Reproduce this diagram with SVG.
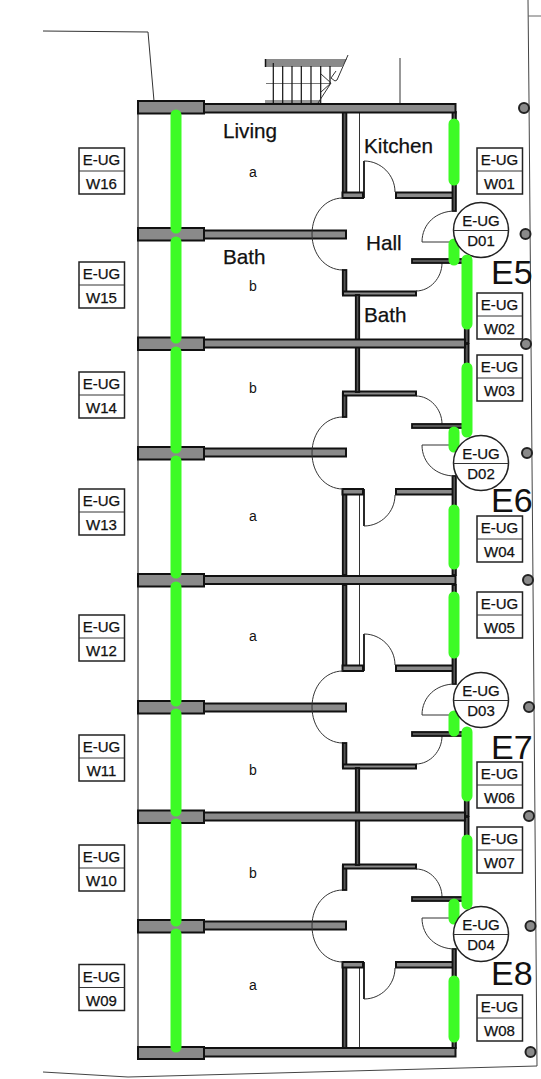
<svg xmlns="http://www.w3.org/2000/svg" width="541" height="1079" viewBox="0 0 541 1079">
<style>
text{font-family:"Liberation Sans",Arial,sans-serif;fill:#111;stroke:#111;stroke-width:.25}
.w{fill:#8a8a8a;stroke:#111;stroke-width:2}
.d{fill:#555;stroke:#111;stroke-width:1.800}
.l{fill:none;stroke:#333;stroke-width:1}
.g{fill:none;stroke:#3dfb25;stroke-width:11;stroke-linecap:round}
.t{font-size:15px;text-anchor:middle}
.r{font-size:20.700px}
.s{font-size:14px;text-anchor:middle;stroke-width:0}
.e{font-size:34px;stroke-width:0}
.b{fill:#fff;stroke:#222;stroke-width:1.500}
.p{fill:#8a8a8a;stroke:#222;stroke-width:2}
</style>
<defs>
<g id="unit">
<rect class="w" x="204" y="230.500" width="142" height="8"/>
<rect class="d" x="342.800" y="112" width="3.600" height="83"/>
<path class="l" d="M359.500 112V193"/>
<rect class="w" x="342.500" y="192.500" width="20.500" height="5.500"/>
<rect class="w" x="396" y="192.500" width="59" height="5.500"/>
<path d="M364 161V198" fill="none" stroke="#111" stroke-width="1.800"/>
<path class="l" d="M364 161C381 161 395 175 395 192"/>
<rect class="d" x="452.500" y="112" width="3.400" height="99"/>
<path class="l" d="M343 198C325 198 312 214 312 234C312 254 325 270 343 270"/>
<rect class="d" x="342.800" y="270" width="3.600" height="24"/>
<rect class="w" x="343" y="291.500" width="73" height="4"/>
<path class="l" d="M455 211C436 211 422 224 422 242H455"/>
<path class="l" d="M416 291C430 291 442 278 442 263"/>
<rect class="d" x="412" y="259" width="53" height="4"/>
<rect class="d" x="355.800" y="295" width="3.400" height="48"/>
<rect class="d" x="464.800" y="259" width="3.800" height="84"/>
</g>
</defs>
<g id="site">
<path d="M43 31L148 32L154 101" fill="none" stroke="#333" stroke-width="1"/>
<path d="M138 114V1047" fill="none" stroke="#333" stroke-width="1.200"/>
<path d="M528 0L529 100L537 1066L128 1077L43 1072" fill="none" stroke="#444" stroke-width="1"/>
<path d="M528 16H541" fill="none" stroke="#666" stroke-width="1"/>
<path d="M400 58V104" fill="none" stroke="#333" stroke-width="1"/>
</g>
<g id="stairs">
<path d="M265 59H347L342 67H265Z" fill="#8a8a8a"/>
<path d="M265.500 59V67" stroke="#111" stroke-width="1.500" fill="none"/>
<rect x="265" y="100" width="55" height="4" fill="#999"/>
<path d="M266 83.500H330" stroke="#777" stroke-width="1" fill="none"/>
<path d="M273.300 63V103M282.700 66V103M292 66V103M301.300 66V103M311 66V103M320.700 66V103M330 66V84" stroke="#111" stroke-width="1.200" fill="none"/>
<path d="M348 55L337 80L335 81L331 78L336 71M318 103L331 83L321 74M331 83L321 92" stroke="#333" stroke-width="1" fill="none"/>
</g>
<g id="walls">
<use href="#unit"/>
<use href="#unit" transform="matrix(1 0 0 -1 0 687)"/>
<use href="#unit" transform="translate(0 473)"/>
<use href="#unit" transform="matrix(1 0 0 -1 0 1160)"/>
<rect class="w" x="204" y="104" width="251.500" height="8.500"/>
<rect class="w" x="204" y="339.500" width="261" height="8"/>
<rect class="w" x="204" y="576" width="251.500" height="8"/>
<rect class="w" x="204" y="812.500" width="261" height="8"/>
<rect class="w" x="204" y="1048" width="251.500" height="8.500"/>
<rect class="w" x="138" y="101" width="66" height="12.500"/>
<rect class="w" x="138" y="228" width="66" height="12.500"/>
<rect class="w" x="138" y="337.500" width="66" height="12.500"/>
<rect class="w" x="138" y="447" width="66" height="12.500"/>
<rect class="w" x="138" y="574" width="66" height="12.500"/>
<rect class="w" x="138" y="701" width="66" height="12.500"/>
<rect class="w" x="138" y="810.500" width="66" height="12.500"/>
<rect class="w" x="138" y="920" width="66" height="12.500"/>
<rect class="w" x="138" y="1047" width="66" height="12"/>
</g>
<g id="posts">
<circle class="p" cx="524" cy="108" r="5"/>
<circle class="p" cx="525.500" cy="234" r="5"/>
<circle class="p" cx="526" cy="344" r="5"/>
<circle class="p" cx="527" cy="453" r="5"/>
<circle class="p" cx="528" cy="580" r="5"/>
<circle class="p" cx="529" cy="707" r="5"/>
<circle class="p" cx="529" cy="816" r="5"/>
<circle class="p" cx="530.500" cy="926" r="5"/>
<circle class="p" cx="530.500" cy="1052" r="5"/>
</g>
<g id="connectors">
<path class="g" d="M176 115V228M176 242V338M176 352V448M176 461V573M176 587V701M176 714V811M176 824V921M176 934V1047"/>
<path class="g" d="M454 124V180M454 510V564M454 597V653M454 981V1037"/>
<path class="g" d="M454 244V260M454 432V447M454 716V731M454 904V919"/>
</g>
<g id="D01"><circle class="b" cx="481" cy="230" r="27.500"/><path class="l" d="M453.500 230.500H508.500"/><text class="t" x="481" y="226">E-UG</text><text class="t" x="481" y="246">D01</text></g>
<g id="D02"><circle class="b" cx="481" cy="463" r="27.500"/><path class="l" d="M453.500 463.500H508.500"/><text class="t" x="481" y="459">E-UG</text><text class="t" x="481" y="479">D02</text></g>
<g id="D03"><circle class="b" cx="481" cy="700" r="27.500"/><path class="l" d="M453.500 700.500H508.500"/><text class="t" x="481" y="696">E-UG</text><text class="t" x="481" y="716">D03</text></g>
<g id="D04"><circle class="b" cx="481" cy="934" r="27.500"/><path class="l" d="M453.500 934.500H508.500"/><text class="t" x="481" y="930">E-UG</text><text class="t" x="481" y="950">D04</text></g>
<g id="connectors-upper">
<path class="g" d="M467 260V324M467 368V432M467 732V796M467 840V904"/>
</g>
<g id="W01"><rect class="b" x="477" y="148" width="45.500" height="46"/><path class="l" d="M477 171H522.500"/><text class="t" x="499.500" y="165">E-UG</text><text class="t" x="499.500" y="189">W01</text></g>
<g id="W02"><rect class="b" x="477" y="293" width="45.500" height="46"/><path class="l" d="M477 316H522.500"/><text class="t" x="499.500" y="310">E-UG</text><text class="t" x="499.500" y="334">W02</text></g>
<g id="W03"><rect class="b" x="477" y="355" width="45.500" height="46"/><path class="l" d="M477 378H522.500"/><text class="t" x="499.500" y="372">E-UG</text><text class="t" x="499.500" y="396">W03</text></g>
<g id="W04"><rect class="b" x="477" y="516" width="45.500" height="46"/><path class="l" d="M477 539H522.500"/><text class="t" x="499.500" y="533">E-UG</text><text class="t" x="499.500" y="557">W04</text></g>
<g id="W05"><rect class="b" x="477" y="592" width="45.500" height="46"/><path class="l" d="M477 615H522.500"/><text class="t" x="499.500" y="609">E-UG</text><text class="t" x="499.500" y="633">W05</text></g>
<g id="W06"><rect class="b" x="477" y="762" width="45.500" height="46"/><path class="l" d="M477 785H522.500"/><text class="t" x="499.500" y="779">E-UG</text><text class="t" x="499.500" y="803">W06</text></g>
<g id="W07"><rect class="b" x="477" y="827" width="45.500" height="46"/><path class="l" d="M477 850H522.500"/><text class="t" x="499.500" y="844">E-UG</text><text class="t" x="499.500" y="868">W07</text></g>
<g id="W08"><rect class="b" x="477" y="995" width="45.500" height="46"/><path class="l" d="M477 1018H522.500"/><text class="t" x="499.500" y="1012">E-UG</text><text class="t" x="499.500" y="1036">W08</text></g>
<g id="W16"><rect class="b" x="79" y="148" width="45.500" height="46"/><path class="l" d="M79 171H124.500"/><text class="t" x="101.500" y="165">E-UG</text><text class="t" x="101.500" y="189">W16</text></g>
<g id="W15"><rect class="b" x="79" y="262" width="45.500" height="46"/><path class="l" d="M79 285H124.500"/><text class="t" x="101.500" y="279">E-UG</text><text class="t" x="101.500" y="303">W15</text></g>
<g id="W14"><rect class="b" x="79" y="372" width="45.500" height="46"/><path class="l" d="M79 395H124.500"/><text class="t" x="101.500" y="389">E-UG</text><text class="t" x="101.500" y="413">W14</text></g>
<g id="W13"><rect class="b" x="79" y="489" width="45.500" height="46"/><path class="l" d="M79 512H124.500"/><text class="t" x="101.500" y="506">E-UG</text><text class="t" x="101.500" y="530">W13</text></g>
<g id="W12"><rect class="b" x="79" y="615" width="45.500" height="46"/><path class="l" d="M79 638H124.500"/><text class="t" x="101.500" y="632">E-UG</text><text class="t" x="101.500" y="656">W12</text></g>
<g id="W11"><rect class="b" x="79" y="735" width="45.500" height="46"/><path class="l" d="M79 758H124.500"/><text class="t" x="101.500" y="752">E-UG</text><text class="t" x="101.500" y="776">W11</text></g>
<g id="W10"><rect class="b" x="79" y="845" width="45.500" height="46"/><path class="l" d="M79 868H124.500"/><text class="t" x="101.500" y="862">E-UG</text><text class="t" x="101.500" y="886">W10</text></g>
<g id="W09"><rect class="b" x="79" y="964.500" width="45.500" height="46"/><path class="l" d="M79 987.500H124.500"/><text class="t" x="101.500" y="981.500">E-UG</text><text class="t" x="101.500" y="1005.500">W09</text></g>
<g id="rooms">
<text class="r" x="223" y="138">Living</text>
<text class="r" x="364" y="153">Kitchen</text>
<text class="r" x="366" y="250">Hall</text>
<text class="r" x="223" y="264">Bath</text>
<text class="r" x="364" y="322">Bath</text>
<text class="s" x="253" y="177">a</text>
<text class="s" x="253" y="291">b</text>
<text class="s" x="253" y="393">b</text>
<text class="s" x="253" y="521">a</text>
<text class="s" x="253" y="641">a</text>
<text class="s" x="253" y="775">b</text>
<text class="s" x="253" y="878">b</text>
<text class="s" x="253" y="990">a</text>
<text class="e" x="491" y="284">E5</text>
<text class="e" x="491" y="512">E6</text>
<text class="e" x="491" y="759">E7</text>
<text class="e" x="491" y="985">E8</text>
</g>
</svg>
